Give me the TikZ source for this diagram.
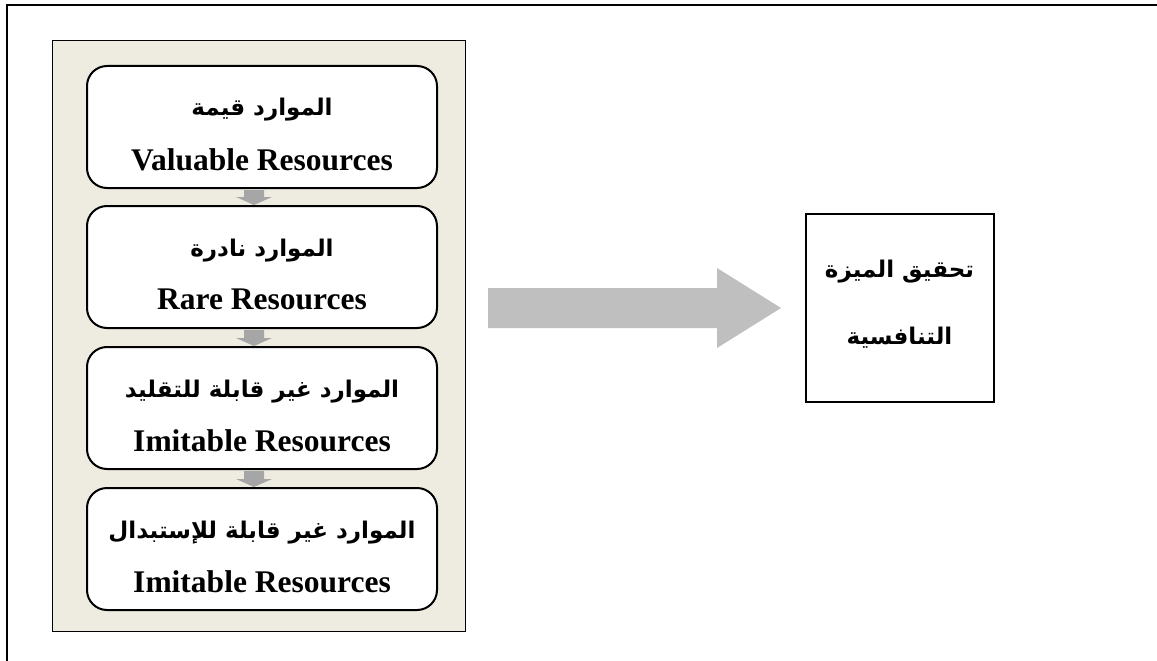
\documentclass[tikz,border=0pt]{standalone}
\usepackage{fontspec}
\setmainfont{Liberation Serif}
\newfontfamily\arabicfont[Script=Arabic]{DejaVu Sans}
\TeXXeTstate=1
\usetikzlibrary{calc}
\definecolor{panelbg}{HTML}{EEECE1}
\definecolor{stepgray}{HTML}{A6A6A6}
\definecolor{biggray}{HTML}{BFBFBF}
\newcommand{\artxt}[1]{{\arabicfont\bfseries\beginR #1\endR}}
\begin{document}
\begin{tikzpicture}[x=1pt,y=-1pt,
  resbox/.style={draw=black, line width=2pt, fill=white, rounded corners=20pt,
    minimum width=350pt, minimum height=122pt, inner sep=0pt},
  artext/.style={anchor=base, inner sep=0pt, font=\fontsize{23}{28}\selectfont},
  entext/.style={anchor=base, inner sep=0pt, font=\fontsize{31.5}{36}\selectfont\bfseries},
  stepfill/.style={fill=stepgray},
]
\useasboundingbox (0,0) rectangle (1157,661);

% outer frame (top and left edges)
\draw[line width=2.5pt] (7,661) -- (7,5) -- (1157,5);

% beige panel holding the four resource boxes
\node[draw=black, line width=1.5pt, fill=panelbg, minimum width=413pt,
      minimum height=591pt, inner sep=0pt] (panel) at (259,336) {};

% resource boxes
\node[resbox] (b1) at (262,127) {};
\node[resbox] (b2) at (262,267) {};
\node[resbox] (b3) at (262,408) {};
\node[resbox] (b4) at (262,549) {};

% texts of the boxes
\node[artext] (b1a) at ($(b1.center)+(0,-12)$) {\artxt{الموارد قيمة}};
\node[entext] (b1e) at ($(b1.center)+(0,43)$) {Valuable Resources};
\node[artext] (b2a) at ($(b2.center)+(0,-11)$) {\artxt{الموارد نادرة}};
\node[entext] (b2e) at ($(b2.center)+(0,42)$) {Rare Resources};
\node[artext] (b3a) at ($(b3.center)+(0,-11)$) {\artxt{الموارد غير قابلة للتقليد}};
\node[entext] (b3e) at ($(b3.center)+(0,43)$) {Imitable Resources};
\node[artext] (b4a) at ($(b4.center)+(0,-11)$) {\artxt{الموارد غير قابلة للإستبدال}};
\node[entext] (b4e) at ($(b4.center)+(0,43)$) {Imitable Resources};

% small down arrows between consecutive boxes
\foreach \a/\b in {b1/b2, b2/b3, b3/b4} {
  \fill[stepfill]
    ([xshift=-18pt,yshift=-1pt]\a.south) -- ([xshift=2pt,yshift=-1pt]\a.south)
    -- ([xshift=2pt,yshift=8pt]\b.north) -- ([xshift=10pt,yshift=8pt]\b.north)
    -- ([xshift=-8pt,yshift=0pt]\b.north) -- ([xshift=-26pt,yshift=8pt]\b.north)
    -- ([xshift=-18pt,yshift=8pt]\b.north) -- cycle;
}

% result box
\node[draw=black, line width=2pt, fill=white, minimum width=188pt,
      minimum height=188pt, inner sep=0pt] (goal) at (899.5,307.5) {};
\node[artext] (g1) at ($(goal.center)+(0,-30)$) {\artxt{تحقيق الميزة}};
\node[artext] (g2) at ($(goal.center)+(0,37)$) {\artxt{التنافسية}};

% large block arrow towards the result
\fill[biggray] (488,288) -- (717,288) -- (717,268) -- (781,308)
  -- (717,348) -- (717,328) -- (488,328) -- cycle;
\end{tikzpicture}
\end{document}
